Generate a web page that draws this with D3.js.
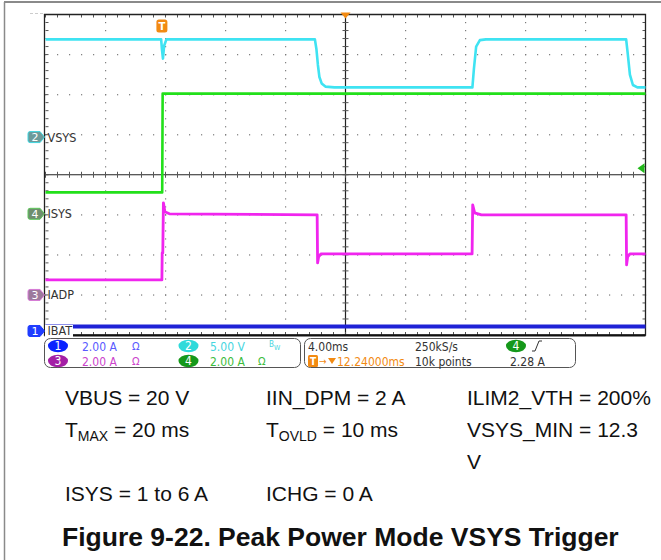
<!DOCTYPE html>
<html>
<head>
<meta charset="utf-8">
<script src="https://cdn.jsdelivr.net/npm/d3@7"></script>
<style>
  html, body { margin: 0; padding: 0; background: #fff; }
  svg { display: block; }
  .scope-font { font-family: "DejaVu Sans Condensed", "Liberation Sans Narrow", "DejaVu Sans", sans-serif; font-stretch: condensed; }
</style>
</head>
<body>
<svg id="scope" width="661" height="560"></svg>
<script>
// ---- acquisition settings ----
const timePerDiv = 4;          // ms / div
const triggerDelay = 12.24;    // ms, trigger to screen centre
const hDivs = 10, vDivs = 8;

// channel names, scales (units/div) and ground offsets (div from centre)
const channelIds = [1, 2, 3, 4];
const channelNames = ["IBAT", "VSYS", "IADP", "ISYS"];
const channelScale = [2, 5, 2, 2];
const channelOffset = [-3.9, 0.94, -3.0, -0.975];
const channelColors = ["#1f22d6", "#3fe3f2", "#f025ee", "#22e01a"];

// ---- traces: [time ms from trigger, value] ----
const ibat = [[-7.76, 0.22], [32.24, 0.22]];
const vsys = [
  [-7.76, 12.2], [-0.05, 12.2], [0.0, 11.0], [0.07, 9.8], [0.15, 11.4], [0.3, 12.2],
  [10.2, 12.2], [10.3, 11.0], [10.4, 9.0], [10.5, 7.5], [10.65, 6.7], [10.9, 6.3], [11.5, 6.2],
  [20.7, 6.2], [20.8, 8.5], [20.95, 11.3], [21.2, 12.1], [21.6, 12.2],
  [30.95, 12.2], [31.05, 10.5], [31.2, 7.8], [31.4, 6.5], [31.7, 6.2], [32.24, 6.2]
];
const iadp = [
  [-7.76, 0.75], [0.0, 0.75], [0.02, 2.1], [0.06, 2.1], [0.1, 4.6], [0.2, 4.15], [0.5, 4.05],
  [10.35, 4.0], [10.38, 1.6], [10.45, 1.9], [10.6, 2.05],
  [20.68, 2.05], [20.72, 4.5], [20.85, 4.1], [21.3, 4.0],
  [30.95, 4.0], [30.98, 1.5], [31.05, 1.9], [31.2, 2.05], [32.24, 2.05]
];
const isys = [[-7.76, 1.07], [0.02, 1.07], [0.05, 6.0], [32.24, 6.0]];
const traces = [ibat, vsys, iadp, isys];
const traceWidth = [4, 2.6, 2.8, 2.6];
const drawOrder = [0, 3, 1, 2];

// trigger: channel 4, rising edge
const trigLevel = 2.28;        // A

// readout rows
const chReadout = ["2.00 A", "5.00 V", "2.00 A", "2.00 A"];
const readoutTime = "4.00ms", readoutRate = "250kS/s", readoutPts = "10k points";
const readoutDelay = "12.24000ms", readoutTrig = "2.28 A";

// conditions listed under the screen
const notesRow1 = ["VBUS = 20 V", "IIN_DPM = 2 A", "ILIM2_VTH = 200%"];
const notesRow3 = ["ISYS = 1 to 6 A", "ICHG = 0 A"];
const caption = "Figure 9-22. Peak Power Mode VSYS Trigger";

// ---- layout ----
const svg = d3.select("#scope");
const P = { left: 45.5, right: 645.5, top: 14.5, bottom: 335 };

const xDiv = d3.scaleLinear().domain([-hDivs / 2, hDivs / 2]).range([P.left, P.right]);
const yDiv = d3.scaleLinear().domain([-vDivs / 2, vDivs / 2]).range([P.bottom, P.top]);
const xTime = d3.scaleLinear()
  .domain([triggerDelay - timePerDiv * hDivs / 2, triggerDelay + timePerDiv * hDivs / 2])
  .range([P.left, P.right]);
const yChan = i => v => yDiv(channelOffset[i] + v / channelScale[i]);

svg.append("rect").attr("width", 661).attr("height", 560).attr("fill", "#fff");

// page frame
svg.append("line").attr("x1", 4).attr("x2", 661).attr("y1", 2).attr("y2", 2)
  .attr("stroke", "#8a8a8a").attr("stroke-width", 2);
svg.append("line").attr("x1", 4.5).attr("x2", 4.5).attr("y1", 2).attr("y2", 560)
  .attr("stroke", "#8a8a8a").attr("stroke-width", 1.5);

// ---- graticule ----
const grid = svg.append("g");
const minorX = d3.range(-hDivs / 2 * 5, hDivs / 2 * 5 + 1).map(d => d / 5);
const minorY = d3.range(-vDivs / 2 * 5, vDivs / 2 * 5 + 1).map(d => d / 5);
const majorX = d3.range(-hDivs / 2 + 1, hDivs / 2);
const majorY = d3.range(-vDivs / 2 + 1, vDivs / 2);

// dotted division lines
majorX.filter(d => d !== 0).forEach(dx => {
  minorY.forEach(dy => grid.append("rect")
    .attr("x", xDiv(dx) - 0.5).attr("y", yDiv(dy) - 0.5).attr("width", 1.2).attr("height", 1.2)
    .attr("fill", "#7a7a7a"));
});
majorY.filter(d => d !== 0).forEach(dy => {
  minorX.forEach(dx => grid.append("rect")
    .attr("x", xDiv(dx) - 0.5).attr("y", yDiv(dy) - 0.5).attr("width", 1.2).attr("height", 1.2)
    .attr("fill", "#7a7a7a"));
});

// centre axes with minor ticks
grid.append("line").attr("x1", P.left).attr("x2", P.right).attr("y1", yDiv(0)).attr("y2", yDiv(0))
  .attr("stroke", "#222").attr("stroke-width", 1.2);
grid.append("line").attr("x1", xDiv(0)).attr("x2", xDiv(0)).attr("y1", P.top).attr("y2", P.bottom)
  .attr("stroke", "#222").attr("stroke-width", 1.2);
minorX.forEach(dx => grid.append("line")
  .attr("x1", xDiv(dx)).attr("x2", xDiv(dx)).attr("y1", yDiv(0) - 3).attr("y2", yDiv(0) + 3)
  .attr("stroke", "#555").attr("stroke-width", 1));
minorY.forEach(dy => grid.append("line")
  .attr("x1", xDiv(0) - 3).attr("x2", xDiv(0) + 3).attr("y1", yDiv(dy)).attr("y2", yDiv(dy))
  .attr("stroke", "#555").attr("stroke-width", 1));

// edge ticks
minorX.forEach(dx => {
  grid.append("line").attr("x1", xDiv(dx)).attr("x2", xDiv(dx)).attr("y1", P.top).attr("y2", P.top + 3)
    .attr("stroke", "#555");
  grid.append("line").attr("x1", xDiv(dx)).attr("x2", xDiv(dx)).attr("y1", P.bottom - 3).attr("y2", P.bottom)
    .attr("stroke", "#555");
});
minorY.forEach(dy => {
  grid.append("line").attr("x1", P.left).attr("x2", P.left + 3).attr("y1", yDiv(dy)).attr("y2", yDiv(dy))
    .attr("stroke", "#555");
  grid.append("line").attr("x1", P.right - 3).attr("x2", P.right).attr("y1", yDiv(dy)).attr("y2", yDiv(dy))
    .attr("stroke", "#555");
});

// screen border
grid.append("path")
  .attr("d", `M${P.left - 1},${P.top}H${P.right}V${P.bottom}H${P.left - 1}Z`)
  .attr("fill", "none").attr("stroke", "#222").attr("stroke-width", 1.3);
grid.append("line").attr("x1", P.left - 1).attr("x2", P.right).attr("y1", P.bottom + 0.5).attr("y2", P.bottom + 0.5)
  .attr("stroke", "#111").attr("stroke-width", 2);
grid.append("line").attr("x1", 30).attr("x2", P.left - 2).attr("y1", P.top - 1).attr("y2", P.top - 1)
  .attr("stroke", "#ccc").attr("stroke-dasharray", "3,2");

// ---- traces ----
const traceLayer = svg.append("g");
drawOrder.forEach(i => {
  const line = d3.line().x(d => xTime(d[0])).y(d => yChan(i)(d[1]));
  traceLayer.append("path").datum(traces[i]).attr("d", line)
    .attr("fill", "none").attr("stroke", channelColors[i])
    .attr("stroke-width", traceWidth[i]).attr("stroke-linejoin", "round");
});

// ---- trigger markers ----
const tx = xTime(0);
const tMark = svg.append("g").attr("transform", `translate(${tx},${P.top + 11})`);
tMark.append("rect").attr("x", -5.5).attr("y", -6).attr("width", 11).attr("height", 13).attr("rx", 2.5)
  .attr("fill", "#f28a12");
tMark.append("text").attr("y", 4.5).attr("text-anchor", "middle").attr("fill", "#fff")
  .attr("font-family", "DejaVu Sans").attr("font-size", 10).attr("font-weight", "bold").text("T");
svg.append("path")
  .attr("d", `M${xDiv(0) - 5},${P.top - 2}L${xDiv(0) + 5},${P.top - 2}L${xDiv(0)},${P.top + 4}Z`)
  .attr("fill", "#f28a12");
// trigger level arrow on the right edge
const ty = yChan(3)(trigLevel);
svg.append("path")
  .attr("d", `M${P.right - 8},${ty}L${P.right - 1},${ty - 5}L${P.right - 1},${ty + 5}Z`)
  .attr("fill", "#22b81a");

// ---- channel ground markers and labels ----
const markFill = ["#1f3cff", "#6c9a9a", "#9c7a9c", "#6e8e6e"];
const markEdge = ["#1f3cff", "#3fd6e0", "#d77ad6", "#5ec85a"];
channelIds.forEach((id, i) => {
  const y = yChan(i)(0);
  const g = svg.append("g").attr("transform", `translate(0,${y})`);
  if (i === 0) {
    g.append("rect").attr("x", P.left - 0.5).attr("y", -6).attr("width", 28).attr("height", 12).attr("fill", "#fff");
  }
  g.append("path")
    .attr("d", "M30,-5.5H40L44.5,0L40,5.5H30Q28,5.5 28,3.5V-3.5Q28,-5.5 30,-5.5Z")
    .attr("fill", markFill[i]).attr("stroke", markEdge[i]).attr("stroke-width", 1);
  g.append("text").attr("x", 35).attr("y", 4.2).attr("text-anchor", "middle").attr("fill", "#fff")
    .attr("font-family", "DejaVu Sans").attr("font-size", 11).text(id);
  g.append("text").attr("class", "scope-font").attr("x", P.left + 2).attr("y", 4.5).attr("fill", "#333")
    .attr("font-size", 12.5).text(channelNames[i]);
});

// ---- readout panel ----
const panel = svg.append("g").attr("class", "scope-font").attr("font-size", 12);
panel.append("rect").attr("x", 44.5).attr("y", 338.5).attr("width", 256).attr("height", 29).attr("rx", 6)
  .attr("fill", "#fff").attr("stroke", "#555");
panel.append("rect").attr("x", 304.5).attr("y", 338.5).attr("width", 271).attr("height", 29).attr("rx", 6)
  .attr("fill", "#fff").attr("stroke", "#555");

const badgeFill = ["#0a22ff", "#2fdada", "#a41fa6", "#15981a"];
const textFill = ["#5a5aff", "#46d6e0", "#cc44cc", "#3cbc3c"];
const rowY = [346, 361];
const slot = [[58, 82, 132], [188.5, 210, 258]];
// channel 1,2 on the first row, 3,4 on the second
[[0, 0, 0], [1, 0, 1], [2, 1, 0], [3, 1, 1]].forEach(([i, r, c]) => {
  const [bx, tx0, ox] = slot[c];
  panel.append("ellipse").attr("cx", bx).attr("cy", rowY[r]).attr("rx", 10).attr("ry", 6.2).attr("fill", badgeFill[i]);
  panel.append("text").attr("x", bx).attr("y", rowY[r] + 4.3).attr("text-anchor", "middle").attr("fill", "#fff")
    .attr("font-size", 12).text(channelIds[i]);
  panel.append("text").attr("x", tx0).attr("y", rowY[r] + 4.5).attr("fill", textFill[i]).text(chReadout[i]);
  if (i !== 1) {
    panel.append("text").attr("x", ox).attr("y", rowY[r] + 4.3).attr("fill", textFill[i]).attr("font-size", 11).text("Ω");
  } else {
    const bw = panel.append("text").attr("x", 269).attr("y", rowY[r] + 1).attr("fill", textFill[i]).attr("font-size", 8);
    bw.append("tspan").text("B");
    bw.append("tspan").attr("dy", 3).attr("font-size", 7).text("W");
  }
});

panel.append("text").attr("x", 308).attr("y", rowY[0] + 4.5).attr("fill", "#333").text(readoutTime);
panel.append("text").attr("x", 415).attr("y", rowY[0] + 4.5).attr("fill", "#333").text(readoutRate);
panel.append("text").attr("x", 415).attr("y", rowY[1] + 4.5).attr("fill", "#333").text(readoutPts);
panel.append("ellipse").attr("cx", 516).attr("cy", rowY[0]).attr("rx", 10).attr("ry", 6.2).attr("fill", badgeFill[3]);
panel.append("text").attr("x", 516).attr("y", rowY[0] + 4.3).attr("text-anchor", "middle").attr("fill", "#fff")
  .attr("font-size", 12).text(channelIds[3]);
panel.append("path").attr("d", `M532,${rowY[0] + 5}H535L539,${rowY[0] - 5}H542`)
  .attr("fill", "none").attr("stroke", "#333").attr("stroke-width", 1);
panel.append("text").attr("x", 510).attr("y", rowY[1] + 4.5).attr("fill", "#333").text(readoutTrig);
panel.append("rect").attr("x", 308).attr("y", rowY[1] - 6).attr("width", 10).attr("height", 12).attr("rx", 1.5).attr("fill", "#f28a12");
panel.append("text").attr("x", 313).attr("y", rowY[1] + 4).attr("text-anchor", "middle").attr("fill", "#fff")
  .attr("font-size", 10).attr("font-weight", "bold").text("T");
panel.append("text").attr("x", 319).attr("y", rowY[1] + 4.3).attr("fill", "#f28a12").attr("font-size", 10).text("→");
panel.append("path").attr("d", `M328,${rowY[1] - 3}H336L332,${rowY[1] + 3}Z`).attr("fill", "#f28a12");
panel.append("text").attr("x", 337).attr("y", rowY[1] + 4.5).attr("fill", "#f28a12").text(readoutDelay);

// ---- test conditions ----
const notes = svg.append("g").attr("font-family", "Liberation Sans, Arial, sans-serif").attr("font-size", 21).attr("fill", "#111");
const colX = [65, 266, 467];
notesRow1.forEach((t, i) => notes.append("text").attr("x", colX[i]).attr("y", 405).text(t));
const sub = (x, y, main, s, rest) => {
  const t = notes.append("text").attr("x", x).attr("y", y);
  t.append("tspan").text(main);
  t.append("tspan").attr("dy", 4).attr("font-size", 14).text(s);
  t.append("tspan").attr("dy", -4).text(rest);
};
sub(colX[0], 437, "T", "MAX", " = 20 ms");
sub(colX[1], 437, "T", "OVLD", " = 10 ms");
notes.append("text").attr("x", colX[2]).attr("y", 437).text("VSYS_MIN = 12.3");
notes.append("text").attr("x", colX[2]).attr("y", 469).text("V");
notesRow3.forEach((t, i) => notes.append("text").attr("x", colX[i]).attr("y", 501).text(t));

svg.append("text").attr("x", 62).attr("y", 546)
  .attr("font-family", "Liberation Sans, Arial, sans-serif").attr("font-size", 26.5).attr("font-weight", "bold")
  .attr("fill", "#111").text(caption);
</script>
</body>
</html>
